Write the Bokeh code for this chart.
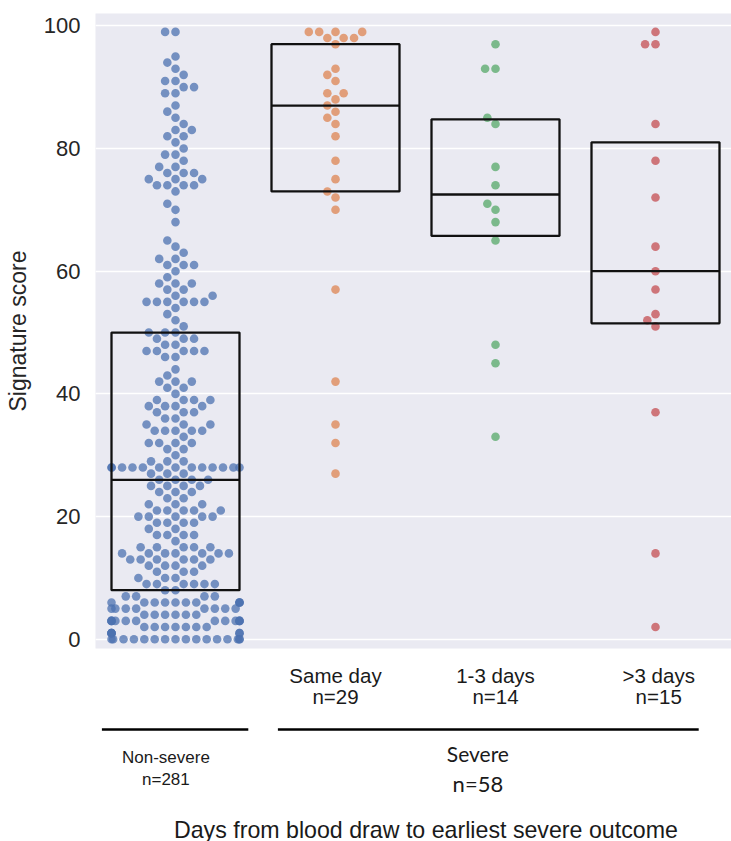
import numpy as np
from bokeh.plotting import figure
from bokeh.layouts import column
from bokeh.models import Range1d, FixedTicker, ColumnDataSource
from bokeh.core.properties import value
from bokeh.embed import file_html
from bokeh.resources import INLINE

# ---------------- data ----------------
categories = ["Non-severe", "Same day", "1-3 days", ">3 days"]
colors = ["#4C72B0", "#DD8452", "#55A868", "#C44E52"]

nonsevere_scores = [99, 95, 94, 93, 92, 91, 90, 89, 87, 86, 85, 84, 83, 82, 81, 80,
                    79, 78, 77, 76, 75, 74, 73, 71, 70, 68, 65, 64, 63, 62, 61, 60,
                    59, 58, 57, 56, 55, 54, 53, 52, 51, 50, 49, 48, 47, 46, 44, 43,
                    42, 41, 40, 39, 38, 37, 36, 35, 34, 33, 32, 31, 30, 29, 28, 27,
                    26, 25, 24, 23, 22, 21, 20, 19, 18, 17, 16, 15, 14, 13, 12, 11,
                    10, 9, 8, 7, 6, 5, 4, 3, 2, 1, 0]
nonsevere_counts = [2, 1, 1, 1, 1, 2, 2, 2, 1, 1, 1, 1, 2, 2, 1, 1,
                    2, 1, 2, 3, 3, 4, 1, 1, 1, 1, 1, 1, 1, 2, 3, 1,
                    1, 3, 2, 2, 6, 1, 1, 1, 1, 3, 3, 2, 5, 2, 1, 1,
                    3, 2, 1, 4, 4, 3, 2, 3, 5, 1, 4, 2, 1, 3, 13, 3,
                    4, 4, 3, 2, 3, 5, 5, 4, 2, 4, 1, 5, 7, 6, 4, 3,
                    3, 6, 2, 4, 10, 8, 6, 12, 7, 6, 16]
same_day_scores = [99, 99, 99, 99, 98, 98, 98, 97, 93, 92, 91, 89, 89, 88, 87,
                   86, 85, 84, 82, 78, 75, 73, 72, 70, 57, 42, 35, 32, 27]
days_1_3_scores = [97, 93, 93, 85, 84, 77, 74, 71, 70, 68, 65, 48, 45, 33]
days_gt3_scores = [99, 97, 97, 84, 78, 72, 64, 60, 57, 53, 52, 51, 37, 14, 2]

group_labels = ["Same day", "1-3 days", ">3 days"]
group_ns = ["n=29", "n=14", "n=15"]
outer_labels = ["Non-severe", "Severe"]
outer_ns = ["n=281", "n=58"]
x_title = "Days from blood draw to earliest severe outcome"
y_title = "Signature score"
y_ticks = [0, 20, 40, 60, 80, 100]

groups = [np.repeat(nonsevere_scores, nonsevere_counts).astype(float),
          np.array(same_day_scores, float),
          np.array(days_1_3_scores, float),
          np.array(days_gt3_scores, float)]

# ---------------- geometry ----------------
LEFT, TOP = 95, 13
FRAME_W, FRAME_H = 636, 635
X0, X1 = -0.5, 3.475
Y0, Y1 = -1.5, 102.0
px_x = FRAME_W / (X1 - X0)
px_y = FRAME_H / (Y1 - Y0)
R = 4.95          # swarm collision radius in px
BOX_W = 0.8


def swarm(vals, center):
    """seaborn-like beeswarm layout in pixel space"""
    vals = np.asarray(vals, float)
    order = np.argsort(vals, kind="stable")
    placed = []
    out_x = np.zeros(len(vals))
    for idx in order:
        y = vals[idx] * px_y
        neighbors = []
        for xj, yj in reversed(placed):
            if y - yj < 2 * R:
                neighbors.append((xj, yj))
            else:
                break
        cands = [0.0]
        left_first = True
        for xj, yj in neighbors:
            dy = y - yj
            dx = np.sqrt(max(4 * R * R - dy * dy, 0)) * 1.05
            cands.extend([xj - dx, xj + dx] if left_first else [xj + dx, xj - dx])
            left_first = not left_first
        cands = sorted(cands, key=abs)
        chosen = cands[0]
        for c in cands:
            if all((xj - c) ** 2 + (yj - y) ** 2 >= 4 * R * R - 1e-9 for xj, yj in neighbors):
                chosen = c
                break
        placed.append((chosen, y))
        out_x[idx] = chosen
    half = BOX_W / 2 * px_x
    out_x = np.clip(out_x, -half, half)
    return center + out_x / px_x


p = figure(frame_width=FRAME_W, frame_height=FRAME_H,
           x_range=Range1d(X0, X1), y_range=Range1d(Y0, Y1),
           toolbar_location=None, output_backend="svg",
           min_border_left=LEFT, min_border_right=0,
           min_border_top=TOP, min_border_bottom=4)
p.background_fill_color = "#EAEAF2"
p.border_fill_color = "white"
p.outline_line_color = None
p.xaxis.visible = False
p.xgrid.grid_line_color = None
p.ygrid.grid_line_color = "white"
p.ygrid.grid_line_width = 1.6
p.ygrid.ticker = FixedTicker(ticks=y_ticks)
p.yaxis.ticker = FixedTicker(ticks=y_ticks)
p.yaxis.axis_line_color = None
p.yaxis.major_tick_line_color = None
p.yaxis.minor_tick_line_color = None
p.yaxis.major_tick_out = 0
p.yaxis.major_label_standoff = 15
p.yaxis.major_label_text_font = "Liberation Sans"
p.yaxis.major_label_text_font_size = "22px"
p.yaxis.major_label_text_color = "#262626"
p.yaxis.axis_label = y_title
p.yaxis.axis_label_text_font = "Liberation Sans"
p.yaxis.axis_label_text_font_size = "23px"
p.yaxis.axis_label_text_font_style = "normal"
p.yaxis.axis_label_text_color = "#262626"
p.yaxis.axis_label_standoff = 10

for i, (vals, col) in enumerate(zip(groups, colors)):
    xs = swarm(vals, i)
    p.scatter(xs, vals, size=8.6, fill_color=col, fill_alpha=0.75, line_color=None)

q1 = [float(np.percentile(g, 25)) for g in groups]
med = [float(np.percentile(g, 50)) for g in groups]
q3 = [float(np.percentile(g, 75)) for g in groups]
pos = np.arange(len(groups), dtype=float)
box_src = ColumnDataSource(dict(left=pos - BOX_W / 2, right=pos + BOX_W / 2,
                                bottom=q1, top=q3, med=med))
p.quad(left="left", right="right", bottom="bottom", top="top", source=box_src,
       fill_alpha=0, line_color="#111111", line_width=2.3)
p.segment(x0="left", x1="right", y0="med", y1="med", source=box_src,
          line_color="#111111", line_width=2.3)

# ---------------- lower label panel ----------------
P_H = TOP + FRAME_H + 4
H2 = 841 - P_H
p2 = figure(frame_width=FRAME_W, frame_height=H2, x_range=p.x_range,
            y_range=Range1d(0, H2), toolbar_location=None, output_backend="svg",
            min_border_left=LEFT, min_border_right=0, min_border_top=0,
            min_border_bottom=0)
p2.axis.visible = False
p2.grid.grid_line_color = None
p2.outline_line_color = None
p2.background_fill_color = "white"
p2.border_fill_color = "white"


def py(page_y):
    return 841 - page_y


txt = dict(text_align="center", text_baseline="middle", text_color="#1a1a1a")
p2.text(x=[1, 2, 3.02], y=[py(675)] * 3, text=group_labels,
        text_font=value("Liberation Sans"), text_font_size="20.5px", **txt)
p2.text(x=[1, 2, 3.02], y=[py(696)] * 3, text=group_ns,
        text_font=value("Liberation Sans"), text_font_size="20.5px", **txt)

p2.segment(x0=[-0.46, 0.64], x1=[0.455, 3.27], y0=[py(729)] * 2, y1=[py(729)] * 2,
           line_color="black", line_width=2.3)

p2.text(x=[-0.06], y=[py(757)], text=[outer_labels[0]],
        text_font=value("Liberation Sans"), text_font_size="17px", **txt)
p2.text(x=[-0.06], y=[py(779)], text=[outer_ns[0]],
        text_font=value("Liberation Sans"), text_font_size="17px", **txt)
p2.text(x=[1.89], y=[py(753)], text=[outer_labels[1]],
        text_font=value("Lato"), text_font_size="21px", **txt)
p2.text(x=[1.89], y=[py(783)], text=[outer_ns[1]],
        text_font=value("Lato"), text_font_size="22px", **txt)
p2.text(x=[1.565], y=[py(829)], text=[x_title],
        text_font=value("Liberation Sans"), text_font_size="23.2px", **txt)

layout = column(p, p2, spacing=0)
open("out.html", "w").write(file_html(layout, INLINE))
